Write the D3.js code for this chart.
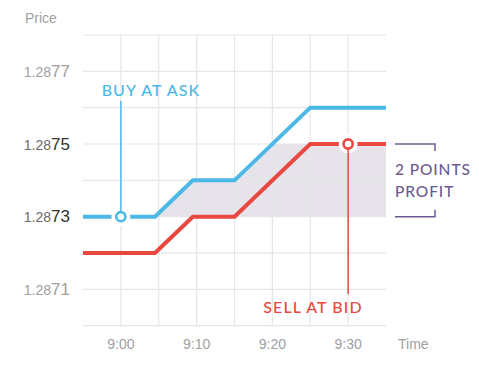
<!DOCTYPE html>
<html><head><meta charset="utf-8">
<script src="https://cdn.jsdelivr.net/npm/d3@7"></script>
<style>
html,body{margin:0;padding:0;background:#fff;}
svg{display:block;}
</style></head>
<body>
<script>
// minutes relative to 9:00
const times = [-5, 4.5, 9.5, 15, 25, 35];
const askValues = [1.2873, 1.2873, 1.2874, 1.2874, 1.2876, 1.2876];
const bidValues = [1.2872, 1.2872, 1.2873, 1.2873, 1.2875, 1.2875];
const yTicks = [1.2877, 1.2875, 1.2873, 1.2871];
const yHighlighted = [1.2875, 1.2873];
const xTicks = [0, 10, 20, 30];
const xTickLabels = ["9:00", "9:10", "9:20", "9:30"];
const yGrid = [1.2870, 1.2871, 1.2872, 1.2873, 1.2874, 1.2875, 1.2876, 1.2877, 1.2878];
const xGrid = [0, 5, 10, 15, 20, 25, 30];
const buyPoint = {t: 0, v: 1.2873, label: "BUY AT ASK"};
const sellPoint = {t: 30, v: 1.2875, label: "SELL AT BID"};
const profitBand = [1.2873, 1.2875];
const profitLabel = ["2 POINTS", "PROFIT"];

const W = 479, H = 368;
const x = d3.scaleLinear().domain([-5, 35]).range([83, 386]);
const y = d3.scaleLinear().domain([1.2870, 1.2878]).range([325.7, 35]);

const BLUE = "#4bb8e5", RED = "#e8483f", PURPLE = "#6d5b8f", GRID = "#e6e6e6", SHADE = "#e6e3eb";

const svg = d3.select("body").append("svg").attr("width", W).attr("height", H);

const ask = times.map((t, i) => ({t, v: askValues[i]}));
const bid = times.map((t, i) => ({t, v: bidValues[i]}));

// clip: area under ask line
const defs = svg.append("defs");
defs.append("clipPath").attr("id", "underAsk")
  .append("path")
  .attr("d", d3.area().x(d => x(d.t)).y0(y(1.2870)).y1(d => y(d.v))(ask));

// shade
svg.append("rect")
  .attr("clip-path", "url(#underAsk)")
  .attr("x", x(-5)).attr("width", x(35) - x(-5))
  .attr("y", y(profitBand[1])).attr("height", y(profitBand[0]) - y(profitBand[1]))
  .attr("fill", SHADE);

// grid
svg.append("g").selectAll("line").data(yGrid).join("line")
  .attr("x1", x(-5)).attr("x2", x(35))
  .attr("y1", d => y(d)).attr("y2", d => y(d))
  .attr("stroke", GRID).attr("stroke-width", 1.2);
svg.append("g").selectAll("line").data(xGrid).join("line")
  .attr("x1", d => x(d)).attr("x2", d => x(d))
  .attr("y1", y(1.2878)).attr("y2", y(1.2870))
  .attr("stroke", GRID).attr("stroke-width", 1.2);

// lines
const line = d3.line().x(d => x(d.t)).y(d => y(d.v));
svg.append("path").attr("d", line(bid)).attr("fill", "none")
  .attr("stroke", RED).attr("stroke-width", 4);
svg.append("path").attr("d", line(ask)).attr("fill", "none")
  .attr("stroke", BLUE).attr("stroke-width", 4);

// markers
function marker(p, color, lineTo) {
  svg.append("circle").attr("cx", x(p.t)).attr("cy", y(p.v)).attr("r", 9.5).attr("fill", "#fff");
  svg.append("line").attr("x1", x(p.t)).attr("x2", x(p.t))
    .attr("y1", lineTo).attr("y2", y(p.v))
    .attr("stroke", color).attr("stroke-width", 1.5);
  svg.append("circle").attr("cx", x(p.t)).attr("cy", y(p.v)).attr("r", 4.6)
    .attr("fill", "#fff").attr("stroke", color).attr("stroke-width", 2.6);
}
marker(buyPoint, BLUE, 101);
marker(sellPoint, RED, 294);

const labelFont = "Lato, 'Open Sans', sans-serif";
svg.append("text").attr("x", 151).attr("y", 96).attr("text-anchor", "middle")
  .attr("font-family", labelFont).attr("font-size", 16).attr("font-weight", 500)
  .attr("letter-spacing", 1.1)
  .attr("fill", BLUE).text(buyPoint.label);
svg.append("text").attr("x", 313).attr("y", 313).attr("text-anchor", "middle")
  .attr("font-family", labelFont).attr("font-size", 16).attr("font-weight", 500)
  .attr("letter-spacing", 1.1)
  .attr("fill", RED).text(sellPoint.label);

// bracket
const bx0 = 395, bx1 = 435;
svg.append("path")
  .attr("d", `M${bx0},${y(profitBand[1])}H${bx1}V${y(profitBand[1]) + 7}M${bx0},${y(profitBand[0])}H${bx1}V${y(profitBand[0]) - 7}`)
  .attr("fill", "none").attr("stroke", PURPLE).attr("stroke-width", 1.5);
svg.append("text").attr("x", 395).attr("y", 175)
  .attr("font-family", labelFont).attr("font-size", 15.5).attr("font-weight", 500)
  .attr("letter-spacing", 0.9)
  .attr("fill", PURPLE).text(profitLabel[0]);
svg.append("text").attr("x", 395).attr("y", 197)
  .attr("font-family", labelFont).attr("font-size", 15.5).attr("font-weight", 500)
  .attr("letter-spacing", 0.9)
  .attr("fill", PURPLE).text(profitLabel[1]);

// axis labels
const axFont = "'Liberation Sans', Arial, sans-serif";
svg.append("text").attr("x", 25).attr("y", 23).attr("font-family", axFont)
  .attr("font-size", 14).attr("fill", "#a0a0a0").text("Price");
svg.append("text").attr("x", 398).attr("y", 349).attr("font-family", axFont)
  .attr("font-size", 14).attr("fill", "#a0a0a0").text("Time");

// y ticks
const yt = svg.append("g").selectAll("text").data(yTicks).join("text")
  .attr("x", 70).attr("y", d => y(d)).attr("dy", "0.36em")
  .attr("text-anchor", "end").attr("font-family", axFont);
yt.append("tspan").attr("font-size", 14)
  .attr("fill", d => yHighlighted.includes(d) ? "#6a6a6a" : "#a0a0a0")
  .text(d => d.toFixed(4).slice(0, 4));
yt.append("tspan").attr("font-size", 17)
  .attr("fill", d => yHighlighted.includes(d) ? "#333" : "#a0a0a0")
  .text(d => d.toFixed(4).slice(4));

// x ticks
svg.append("g").selectAll("text").data(xTicks).join("text")
  .attr("x", d => x(d)).attr("y", 349).attr("text-anchor", "middle")
  .attr("font-family", axFont).attr("font-size", 14).attr("fill", "#a0a0a0")
  .text((d, i) => xTickLabels[i]);
</script>
</body></html>
